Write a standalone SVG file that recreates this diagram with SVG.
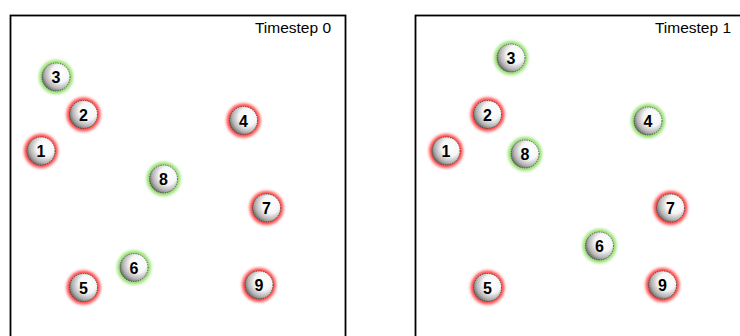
<svg xmlns="http://www.w3.org/2000/svg" width="740" height="336" viewBox="0 0 740 336">
<defs>
<radialGradient id="sph" cx="0.62" cy="0.4" r="0.7" fx="0.68" fy="0.36">
<stop offset="0" stop-color="#ffffff"/>
<stop offset="0.45" stop-color="#f6f6f6"/>
<stop offset="0.75" stop-color="#b4b4b4"/>
<stop offset="1" stop-color="#505050"/>
</radialGradient>
<filter id="glow" x="-50%" y="-50%" width="200%" height="200%">
<feGaussianBlur stdDeviation="1.8"/>
</filter>
<g id="ballbase">
<circle r="14" fill="url(#sph)" stroke="#333" stroke-width="0.8" stroke-dasharray="1.2,1.2"/>
</g>
</defs>
<style>
.frame{fill:none;stroke:#000;stroke-width:1.8}
.title{font-family:"Liberation Sans",Arial,sans-serif;font-size:15.5px;fill:#000;text-anchor:end}
.num{font-family:"Liberation Sans",Arial,sans-serif;font-size:16px;font-weight:bold;fill:#000;text-anchor:middle}
.red{fill:#ff4a4a}
.green{fill:#96e070}
</style>
<g id="panel0">
<rect class="frame" x="10.5" y="15.5" width="335" height="400"/>
<text class="title" x="331" y="33">Timestep 0</text>
</g>
<g id="panel1">
<rect class="frame" x="415.5" y="15.5" width="335" height="400"/>
<text class="title" x="731" y="33">Timestep 1</text>
</g>
<g id="connectors"></g>
<g id="t0-3" transform="translate(56,77)"><circle class="green" r="17" filter="url(#glow)"/><use href="#ballbase"/><text class="num" y="6">3</text></g>
<g id="t0-2" transform="translate(83.5,114.5)"><circle class="red" r="17" filter="url(#glow)"/><use href="#ballbase"/><text class="num" y="6">2</text></g>
<g id="t0-1" transform="translate(41,151)"><circle class="red" r="17" filter="url(#glow)"/><use href="#ballbase"/><text class="num" y="6">1</text></g>
<g id="t0-4" transform="translate(243.5,120.5)"><circle class="red" r="17" filter="url(#glow)"/><use href="#ballbase"/><text class="num" y="6">4</text></g>
<g id="t0-8" transform="translate(163.5,179)"><circle class="green" r="17" filter="url(#glow)"/><use href="#ballbase"/><text class="num" y="6">8</text></g>
<g id="t0-7" transform="translate(266.5,208)"><circle class="red" r="17" filter="url(#glow)"/><use href="#ballbase"/><text class="num" y="6">7</text></g>
<g id="t0-6" transform="translate(134,267.5)"><circle class="green" r="17" filter="url(#glow)"/><use href="#ballbase"/><text class="num" y="6">6</text></g>
<g id="t0-5" transform="translate(83.5,287.5)"><circle class="red" r="17" filter="url(#glow)"/><use href="#ballbase"/><text class="num" y="6">5</text></g>
<g id="t0-9" transform="translate(259,285)"><circle class="red" r="17" filter="url(#glow)"/><use href="#ballbase"/><text class="num" y="6">9</text></g>
<g id="t1-3" transform="translate(511,58)"><circle class="green" r="17" filter="url(#glow)"/><use href="#ballbase"/><text class="num" y="6">3</text></g>
<g id="t1-2" transform="translate(487.5,114.5)"><circle class="red" r="17" filter="url(#glow)"/><use href="#ballbase"/><text class="num" y="6">2</text></g>
<g id="t1-1" transform="translate(446,151)"><circle class="red" r="17" filter="url(#glow)"/><use href="#ballbase"/><text class="num" y="6">1</text></g>
<g id="t1-8" transform="translate(525,154)"><circle class="green" r="17" filter="url(#glow)"/><use href="#ballbase"/><text class="num" y="6">8</text></g>
<g id="t1-4" transform="translate(648,121)"><circle class="green" r="17" filter="url(#glow)"/><use href="#ballbase"/><text class="num" y="6">4</text></g>
<g id="t1-7" transform="translate(670.5,208)"><circle class="red" r="17" filter="url(#glow)"/><use href="#ballbase"/><text class="num" y="6">7</text></g>
<g id="t1-6" transform="translate(599.5,246)"><circle class="green" r="17" filter="url(#glow)"/><use href="#ballbase"/><text class="num" y="6">6</text></g>
<g id="t1-5" transform="translate(487.5,287.5)"><circle class="red" r="17" filter="url(#glow)"/><use href="#ballbase"/><text class="num" y="6">5</text></g>
<g id="t1-9" transform="translate(662.5,285)"><circle class="red" r="17" filter="url(#glow)"/><use href="#ballbase"/><text class="num" y="6">9</text></g>
</svg>
